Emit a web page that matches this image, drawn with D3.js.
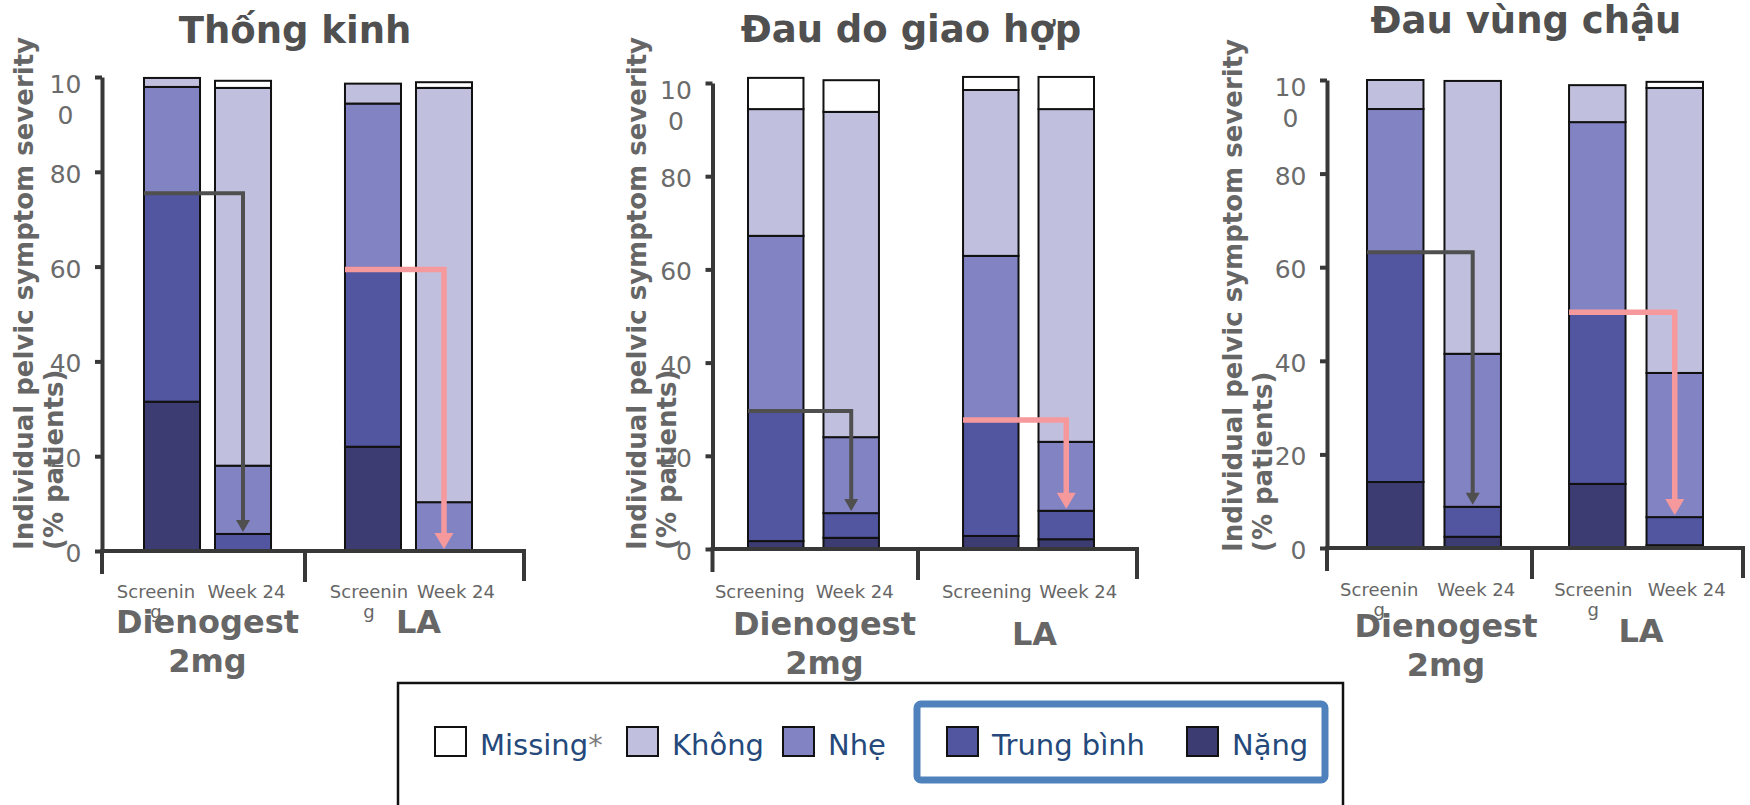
<!DOCTYPE html>
<html><head><meta charset="utf-8">
<script src="https://cdn.jsdelivr.net/npm/d3@7"></script>
<style>body{margin:0;background:#fff;} svg{display:block;}</style>
</head><body>
<svg id="chart" width="1750" height="805"></svg>
<script>
// ---------------- DATA ----------------
const panelTitles = ["Thống kinh", "Đau do giao hợp", "Đau vùng chậu"];
const groups = ["Dienogest 2mg", "LA"];
const timepoints = ["Screening", "Week 24"];
// stacking order, bottom to top
const severities = ["Nặng", "Trung bình", "Nhẹ", "Không", "Missing"];
const legendOrder = ["Missing", "Không", "Nhẹ", "Trung bình", "Nặng"];
const yTicks = [0, 20, 40, 60, 80, 100];
const yTickLabels = ["0", "20", "40", "60", "80", "100"];
const yAxisTitle = ["Individual pelvic symptom severity", "(% patients)"];

// each row: one bar (Dienogest Screening, Dienogest Week 24, LA Screening, LA Week 24)
// values in severities order: Nặng, Trung bình, Nhẹ, Không, Missing
const thongKinh = [
  [31.5, 44.0, 22.4, 1.9, 0.0],
  [0.0, 3.6, 14.4, 79.7, 1.5],
  [22.0, 37.4, 35.0, 4.2, 0.0],
  [0.0, 0.0, 10.3, 87.4, 1.2]
];
const dauGiaoHop = [
  [1.7, 27.9, 37.6, 27.2, 6.7],
  [2.4, 5.3, 16.3, 69.8, 6.8],
  [2.8, 24.9, 35.2, 35.6, 2.8],
  [2.1, 6.1, 14.8, 71.4, 6.9]
];
const dauVungChau = [
  [14.1, 49.1, 30.6, 6.2, 0.0],
  [2.4, 6.4, 32.7, 58.3, 0.0],
  [13.7, 36.7, 40.6, 7.9, 0.0],
  [0.6, 6.0, 30.8, 60.9, 1.3]
];
const panelValues = [thongKinh, dauGiaoHop, dauVungChau];

// ---------------- STYLE / LAYOUT ----------------
const colors = {
  "Missing": "#ffffff",
  "Không": "#c0c0de",
  "Nhẹ": "#8283c3",
  "Trung bình": "#5256a1",
  "Nặng": "#3c3c73"
};
const arrowStyle = {
  "Dienogest 2mg": {color: "#4f4f4f", width: 4, headW: 14, headH: 12},
  "LA": {color: "#f6999c", width: 5.5, headW: 19, headH: 16}
};
const FONT = "'DejaVu Sans', Verdana, sans-serif";
const AXIS = "#383838";

const layout = [
  {axisX: 102, axisEnd: 524, y0: 551, y100: 77, barRange: [144, 472], groupPad: 0.368, innerPad: 0.211,
   titleX: 295, titleY: 43, yTitleX: 33, yTitleY: 550, tickLabelY: 598, groupLabelY: 633,
   groupLabelDx: [0, 10], groupLabelDy: [0, 0], wrapTicks: true},
  {axisX: 712.5, axisEnd: 1137, y0: 549, y100: 83, barRange: [748, 1094], groupPad: 0.391, innerPad: 0.265,
   titleX: 911, titleY: 42, yTitleX: 646, yTitleY: 550, tickLabelY: 598, groupLabelY: 635,
   groupLabelDx: [11, 6], groupLabelDy: [0, 10], wrapTicks: false},
  {axisX: 1327, axisEnd: 1743, y0: 548, y100: 80, barRange: [1367, 1703], groupPad: 0.337, innerPad: 0.271,
   titleX: 1526, titleY: 33, yTitleX: 1242, yTitleY: 552, tickLabelY: 596, groupLabelY: 637,
   groupLabelDx: [12, 5], groupLabelDy: [0, 5], wrapTicks: true}
];
const tickLabelDx = [-16, 3.5, -4, 12];

const svg = d3.select("#chart");

// measuring helpers
const measurer = svg.append("text").attr("visibility", "hidden").attr("font-family", FONT);
function textWidth(str, size, weight) {
  measurer.attr("font-size", size).attr("font-weight", weight || "normal").text(str);
  return measurer.node().getComputedTextLength();
}
function charWrap(str, maxW, size, weight) {
  const lines = []; let cur = "";
  for (const ch of str) {
    if (cur && textWidth(cur + ch, size, weight) > maxW) { lines.push(cur); cur = ch; }
    else cur += ch;
  }
  if (cur) lines.push(cur);
  return lines;
}
function wordWrap(str, maxW, size, weight) {
  const words = str.split(" "); const lines = []; let cur = "";
  words.forEach(w => {
    const t = cur ? cur + " " + w : w;
    if (cur && textWidth(t, size, weight) > maxW) { lines.push(cur); cur = w; }
    else cur = t;
  });
  if (cur) lines.push(cur);
  return lines;
}

const stack = d3.stack().keys(severities);

panelValues.forEach((vals, pi) => {
  const L = layout[pi];
  const g = svg.append("g");

  const rows = [];
  groups.forEach((gr, gi) => timepoints.forEach((tp, ti) => {
    const row = {group: gr, time: tp, idx: gi * 2 + ti};
    severities.forEach((s, si) => row[s] = vals[gi * 2 + ti][si]);
    rows.push(row);
  }));

  const y = d3.scaleLinear().domain([0, 100]).range([L.y0, L.y100]);
  const gx = d3.scaleBand().domain(groups).range(L.barRange).paddingInner(L.groupPad).paddingOuter(0);
  const ix = d3.scaleBand().domain(timepoints).range([0, gx.bandwidth()]).paddingInner(L.innerPad).paddingOuter(0);
  const barX = d => gx(d.group) + ix(d.time);

  // title
  g.append("text").attr("x", L.titleX).attr("y", L.titleY)
    .attr("text-anchor", "middle").attr("font-family", FONT).attr("font-weight", "bold")
    .attr("font-size", 37).attr("fill", "#505050").text(panelTitles[pi]);

  // bars
  const series = stack(rows);
  series.forEach(s => {
    g.append("g").selectAll("rect")
      .data(s.filter(d => d[1] - d[0] > 0))
      .join("rect")
      .attr("x", d => barX(d.data))
      .attr("y", d => y(d[1]))
      .attr("width", ix.bandwidth())
      .attr("height", d => y(d[0]) - y(d[1]))
      .attr("fill", colors[s.key])
      .attr("stroke", "#111").attr("stroke-width", 2);
  });

  // y axis
  const yAxis = d3.axisLeft(y).tickValues(yTicks).tickSize(7).tickSizeOuter(0).tickFormat("");
  const ya = g.append("g").attr("transform", `translate(${L.axisX},0)`).call(yAxis);
  ya.select(".domain").attr("stroke", AXIS).attr("stroke-width", 4);
  ya.selectAll(".tick line").attr("stroke", AXIS).attr("stroke-width", 4);

  // y tick labels (with narrow-box wrapping)
  yTicks.forEach((v, i) => {
    const lines = charWrap(yTickLabels[i], 36, 25);
    const t = g.append("text").attr("font-family", FONT).attr("font-size", 25).attr("fill", "#6b6b6b");
    if (lines.length === 1) {
      t.attr("text-anchor", "end").attr("x", L.axisX - 20.5).attr("y", y(v) + 11).text(lines[0]);
    } else {
      t.attr("text-anchor", "middle");
      lines.forEach((ln, li) => t.append("tspan").attr("x", L.axisX - 36.5)
        .attr("y", y(v) + 16 + li * 31).text(ln));
    }
  });

  // y axis title
  const yt = g.append("text").attr("transform", `translate(${L.yTitleX},${L.yTitleY}) rotate(-90)`)
    .attr("font-family", FONT).attr("font-weight", "bold").attr("font-size", 26).attr("fill", "#666");
  yAxisTitle.forEach((ln, li) => yt.append("tspan").attr("x", 0).attr("y", li * 30).text(ln));

  // x baseline with group ticks
  const y0 = y(0);
  const g1end = gx(groups[0]) + gx.bandwidth();
  const g2start = gx(groups[1]);
  const divX = (g1end + g2start) / 2 - 3;
  g.append("line").attr("x1", L.axisX - 2).attr("x2", L.axisEnd + 2).attr("y1", y0).attr("y2", y0)
    .attr("stroke", AXIS).attr("stroke-width", 4);
  [[L.axisX, 23], [divX, 31], [L.axisEnd, 30]].forEach(([x, len]) => {
    g.append("line").attr("x1", x).attr("x2", x).attr("y1", y0).attr("y2", y0 + len)
      .attr("stroke", AXIS).attr("stroke-width", 4);
  });

  // x tick labels
  rows.forEach(d => {
    const cx = barX(d) + ix.bandwidth() / 2 + tickLabelDx[d.idx];
    const lines = L.wrapTicks ? charWrap(d.time, 84, 18) : [d.time];
    const t = g.append("text").attr("font-family", FONT).attr("font-size", 18).attr("fill", "#666")
      .attr("text-anchor", "middle");
    lines.forEach((ln, li) => t.append("tspan").attr("x", cx).attr("y", L.tickLabelY + li * 20).text(ln));
  });

  // group labels
  groups.forEach((gr, gi) => {
    const cx = gx(gr) + gx.bandwidth() / 2 + L.groupLabelDx[gi];
    const lines = wordWrap(gr, 200, 32, "bold");
    const t = g.append("text").attr("font-family", FONT).attr("font-size", 32).attr("font-weight", "bold")
      .attr("fill", "#666").attr("text-anchor", "middle");
    lines.forEach((ln, li) => t.append("tspan").attr("x", cx)
      .attr("y", L.groupLabelY + L.groupLabelDy[gi] + li * 39).text(ln));
  });

  // arrows: moderate+severe at Screening -> Week 24
  groups.forEach(gr => {
    const st = arrowStyle[gr];
    const sRow = rows.find(r => r.group === gr && r.time === timepoints[0]);
    const wRow = rows.find(r => r.group === gr && r.time === timepoints[1]);
    const sLev = sRow["Nặng"] + sRow["Trung bình"];
    const wLev = wRow["Nặng"] + wRow["Trung bình"];
    const xs = barX(sRow);
    const xe = barX(wRow) + ix.bandwidth() / 2;
    const ys = y(sLev);
    const tip = y(wLev) - 2;
    g.append("path")
      .attr("d", `M${xs},${ys}H${xe}V${tip - st.headH + 2}`)
      .attr("fill", "none").attr("stroke", st.color).attr("stroke-width", st.width)
      .attr("stroke-linejoin", "miter");
    g.append("path")
      .attr("d", `M${xe - st.headW / 2},${tip - st.headH}L${xe + st.headW / 2},${tip - st.headH}L${xe},${tip}Z`)
      .attr("fill", st.color);
  });
});

// ---------------- LEGEND ----------------
const lg = svg.append("g");
lg.append("rect").attr("x", 398).attr("y", 683).attr("width", 945).attr("height", 200)
  .attr("fill", "#fff").attr("stroke", "#111").attr("stroke-width", 2.5);
lg.append("rect").attr("x", 917).attr("y", 704).attr("width", 408).attr("height", 76).attr("rx", 4)
  .attr("fill", "none").attr("stroke", "#4f81bd").attr("stroke-width", 7);
const legendX = [435, 627, 783, 947, 1187];
legendOrder.forEach((k, i) => {
  const x = legendX[i];
  lg.append("rect").attr("x", x).attr("y", 727).attr("width", 31).attr("height", 29)
    .attr("fill", colors[k]).attr("stroke", "#111").attr("stroke-width", 2);
  const t = lg.append("text").attr("x", x + 45).attr("y", 755).attr("font-family", FONT)
    .attr("font-size", 29).attr("fill", "#24497a").text(k);
  if (k === "Missing") t.append("tspan").attr("fill", "#7f7f7f").text("*");
});
measurer.remove();
</script>
</body></html>
